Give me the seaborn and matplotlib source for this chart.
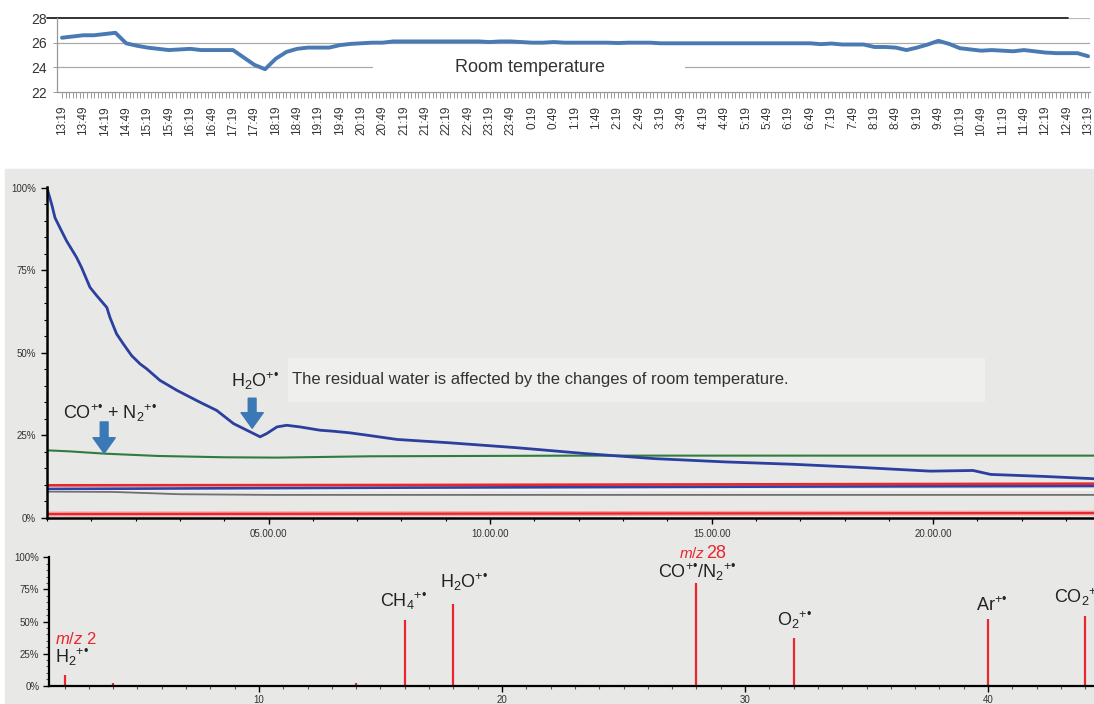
import numpy as np
import matplotlib.pyplot as plt
import seaborn as sns
from matplotlib.patches import Rectangle

W, H = 1094, 704

# room temperature, one value every 15 min from 13:19 to 13:19 next day
temp_values = [
    26.4, 26.5, 26.6, 26.6, 26.7, 26.8,
    25.95, 25.75, 25.6, 25.5, 25.4, 25.45,
    25.5, 25.4, 25.4, 25.4, 25.4, 24.8,
    24.2, 23.85, 24.7, 25.25, 25.5, 25.6,
    25.6, 25.6, 25.8, 25.9, 25.95, 26.0,
    26.0, 26.1, 26.1, 26.1, 26.1, 26.1,
    26.1, 26.1, 26.1, 26.1, 26.05, 26.1,
    26.1, 26.05, 26.0, 26.0, 26.05, 26.0,
    26.0, 26.0, 26.0, 26.0, 25.97, 26.0,
    26.0, 26.0, 25.95, 25.95, 25.95, 25.95,
    25.95, 25.95, 25.95, 25.95, 25.95, 25.95,
    25.95, 25.95, 25.95, 25.95, 25.95, 25.88,
    25.93, 25.85, 25.85, 25.85, 25.65, 25.65,
    25.6, 25.4, 25.6, 25.85, 26.15, 25.9,
    25.55, 25.45, 25.35, 25.4, 25.35, 25.3,
    25.4, 25.3, 25.2, 25.15, 25.15, 25.15,
    24.9]
time_labels = ["13:19", "13:49", "14:19", "14:49", "15:19", "15:49", "16:19", "16:49",
               "17:19", "17:49", "18:19", "18:49", "19:19", "19:49", "20:19", "20:49",
               "21:19", "21:49", "22:19", "22:49", "23:19", "23:49", "0:19", "0:49",
               "1:19", "1:49", "2:19", "2:49", "3:19", "3:49", "4:19", "4:49",
               "5:19", "5:49", "6:19", "6:49", "7:19", "7:49", "8:19", "8:49",
               "9:19", "9:49", "10:19", "10:49", "11:19", "11:49", "12:19", "12:49", "13:19"]
temp_ticks = [22, 24, 26, 28]

# trend plot (minutes, % of max)
h2o_t = [0, 0.105, 0.18, 0.29, 0.44, 0.67, 0.78, 0.97, 1.12, 1.35, 1.42, 1.57, 1.72,
         1.91, 2.1, 2.25, 2.55, 2.93, 3.45, 3.83, 4.21, 4.51, 4.81, 4.96, 5.19, 5.41,
         5.71, 6.16, 6.46, 6.84, 7.22, 7.9, 9.07, 10.6, 12.17, 13.7, 15.3, 16.8, 18.4,
         19.93, 20.9, 21.3, 22.5, 23.63]
h2o_v = [100, 95.1, 91.0, 88.0, 84.0, 78.9, 75.9, 69.9, 67.4, 63.8, 60.8, 55.8, 52.8,
         49.2, 46.7, 45.2, 41.7, 38.7, 35.1, 32.6, 28.6, 26.6, 24.6, 25.6, 27.6, 28.1,
         27.6, 26.6, 26.3, 25.8, 25.1, 23.8, 22.8, 21.3, 19.5, 18.0, 17.0, 16.3, 15.3,
         14.2, 14.4, 13.2, 12.6, 11.9]
n2_t = [0, 0.5, 1.3, 2.5, 4.0, 5.2, 7.3, 12, 18, 23.63]
n2_v = [20.5, 20.2, 19.5, 18.8, 18.4, 18.3, 18.7, 18.9, 18.9, 18.9]
red_hi_t = [0, 8, 16, 23.63]
red_hi_v = [9.9, 10.0, 10.2, 10.4]
blue_lo_t = [0, 8, 16, 23.63]
blue_lo_v = [8.8, 9.2, 9.5, 9.7]
white_t = [0, 23.63]
white_v = [8.4, 8.4]
gray_t = [0, 1.5, 3.0, 5, 23.63]
gray_v = [8.0, 7.9, 7.2, 7.0, 7.0]
red_lo_t = [0, 23.63]
red_lo_v = [1.2, 1.5]
run_ticks = [5, 10, 15, 20]
run_labels = ["05.00.00", "10.00.00", "15.00.00", "20.00.00"]
pct_ticks = [0, 25, 50, 75, 100]
pct_labels = ["0%", "25%", "50%", "75%", "100%"]

# mass spectrum
mz = [2, 4, 14, 16, 18, 28, 32, 40, 44]
intensity = [8.3, 1.9, 1.9, 50.9, 63.9, 79.8, 37.5, 52.2, 54.0]
mz_ticks = [10, 20, 30, 40]

sns.set_theme(style="white")
plt.rcParams['font.family'] = ['Liberation Sans', 'DejaVu Sans']
plt.rcParams['mathtext.fontset'] = 'custom'
plt.rcParams['mathtext.rm'] = 'Liberation Sans'
plt.rcParams['mathtext.it'] = 'Liberation Sans:italic'
plt.rcParams['mathtext.bf'] = 'Liberation Sans:bold'

RAD = "{}^{+•}"

fig = plt.figure(figsize=(W / 100, H / 100), dpi=100)
fig.patches.append(Rectangle((5 / W, 0), 1, 535 / H, transform=fig.transFigure,
                             color='#e8e8e7', zorder=-5))

# ---- top: room temperature ----
ax_t = fig.add_axes([57 / W, 1 - 92 / H, 1033 / W, 74 / H])
temp_x = np.arange(len(temp_values)) * 0.5
sns.lineplot(x=temp_x, y=temp_values, ax=ax_t, color='#4a7ab4', linewidth=2.8, zorder=3)
ax_t.set_xlim(-0.234, 48.09)
ax_t.set_ylim(22, 28)
ax_t.set_xticks(np.arange(len(time_labels)))
ax_t.set_xticklabels(time_labels, rotation=90, fontsize=8.5, color='#333333')
ax_t.set_xticks(np.arange(0, 48.01, 1 / 6), minor=True)
ax_t.set_yticks(temp_ticks)
ax_t.set_yticklabels([str(v) for v in temp_ticks], fontsize=10, color='#333333')
ax_t.tick_params(axis='x', which='both', bottom=True, length=4, width=0.7,
                 color='#999999', pad=6)
ax_t.tick_params(axis='y', left=True, length=3, width=0.7, color='#999999', pad=4)
for s in ['top', 'right']:
    ax_t.spines[s].set_visible(False)
for s in ['left', 'bottom']:
    ax_t.spines[s].set_color('#999999')
    ax_t.spines[s].set_linewidth(0.9)
ax_t.axhline(26, color='#aaaaaa', lw=0.9, zorder=1)
ax_t.axhline(24, xmax=0.305, color='#aaaaaa', lw=0.9, zorder=1)
ax_t.axhline(24, xmin=0.608, color='#aaaaaa', lw=0.9, zorder=1)
ax_t.axhline(28, xmin=0.979, color='#bbbbbb', lw=0.9, zorder=1)
ax_t.axhline(28, xmin=-0.0097, xmax=0.979, color='#222222', lw=1.3, zorder=2, clip_on=False)
ax_t.text(21.9, 24, "Room temperature", ha='center', va='center', fontsize=13,
          color='#333333')
ax_t.set_xlabel('')
ax_t.set_ylabel('')

# ---- middle: trend over time ----
ax_m = fig.add_axes([47 / W, 1 - 518 / H, 1047 / W, 331 / H])
ax_m.set_facecolor('none')
sns.lineplot(x=red_lo_t, y=red_lo_v, ax=ax_m, color='#f2a3a3', linewidth=3.6)
sns.lineplot(x=red_lo_t, y=red_lo_v, ax=ax_m, color='#e8262c', linewidth=1.6)
sns.lineplot(x=gray_t, y=gray_v, ax=ax_m, color='#707070', linewidth=1.3)
sns.lineplot(x=white_t, y=white_v, ax=ax_m, color='#f6f6f6', linewidth=1.2)
sns.lineplot(x=blue_lo_t, y=blue_lo_v, ax=ax_m, color='#2a44a8', linewidth=1.9)
sns.lineplot(x=red_hi_t, y=red_hi_v, ax=ax_m, color='#e8262c', linewidth=1.9)
sns.lineplot(x=n2_t, y=n2_v, ax=ax_m, color='#2f7d3b', linewidth=1.5)
sns.lineplot(x=h2o_t, y=h2o_v, ax=ax_m, color='#2b3f9f', linewidth=2.0)
ax_m.set_xlim(0, 23.63)
ax_m.set_ylim(0, 100.3)
ax_m.set_xticks(run_ticks)
ax_m.set_xticklabels(run_labels, fontsize=7, color='#333333')
ax_m.set_xticks(np.arange(0, 23.6, 1), minor=True)
ax_m.set_yticks(pct_ticks)
ax_m.set_yticklabels(pct_labels, fontsize=7, color='#333333')
ax_m.set_yticks(np.arange(0, 100.1, 5), minor=True)
ax_m.tick_params(which='major', bottom=True, left=True, length=4, width=1,
                 color='black', pad=4)
ax_m.tick_params(which='minor', bottom=True, left=True, length=2.5, width=0.8,
                 color='black')
for s in ['top', 'right']:
    ax_m.spines[s].set_visible(False)
for s in ['left', 'bottom']:
    ax_m.spines[s].set_color('black')
    ax_m.spines[s].set_linewidth(1.8)
ax_m.set_xlabel('')
ax_m.set_ylabel('')

ax_m.add_patch(Rectangle((5.45, 35.3), 15.72, 13.3, color='#efefed', zorder=0.5, lw=0))
ax_m.text(5.53, 42.0, "The residual water is affected by the changes of room temperature.",
          ha='left', va='center', fontsize=12, color='#333333')
ax_m.text(4.15, 41.4, r"H$_2$O$" + RAD + "$", ha='left', va='center', fontsize=13,
          color='#222222')
ax_m.text(0.36, 31.8, r"CO$" + RAD + r"$ + N$_2" + RAD + "$", ha='left', va='center',
          fontsize=13, color='#222222')
arrow = dict(arrowstyle='simple,head_length=0.7,head_width=1.0,tail_width=0.35',
             color='#3b78b6', mutation_scale=16, shrinkA=0, shrinkB=0)
ax_m.annotate('', xy=(4.63, 27.2), xytext=(4.63, 36.3), arrowprops=arrow)
ax_m.annotate('', xy=(1.29, 19.6), xytext=(1.29, 29.1), arrowprops=arrow)

# ---- bottom: mass spectrum ----
ax_b = fig.add_axes([49 / W, 1 - 685.7 / H, 1045 / W, 129 / H])
ax_b.set_facecolor('none')
ax_b.vlines(mz, 0, intensity, color='#e8262c', lw=1.6)
ax_b.set_xlim(1.36, 44.36)
ax_b.set_ylim(0, 100.5)
ax_b.set_xticks(mz_ticks)
ax_b.set_xticklabels([str(v) for v in mz_ticks], fontsize=7, color='#333333')
ax_b.set_xticks(np.arange(2, 45, 1), minor=True)
ax_b.set_yticks(pct_ticks)
ax_b.set_yticklabels(pct_labels, fontsize=7, color='#333333')
ax_b.set_yticks(np.arange(0, 100.1, 5), minor=True)
ax_b.tick_params(which='major', bottom=True, left=True, length=4, width=1,
                 color='black', pad=3)
ax_b.tick_params(which='minor', bottom=True, left=True, length=2, width=0.8,
                 color='#555555')
for s in ['top', 'right']:
    ax_b.spines[s].set_visible(False)
for s in ['left', 'bottom']:
    ax_b.spines[s].set_color('black')
    ax_b.spines[s].set_linewidth(1.6)

lab = dict(ha='left', va='center', fontsize=13, color='#222222', clip_on=False)
ax_b.text(1.6, 36.2, r"$m/z$ 2", ha='left', va='center', fontsize=12, color='#e8262c')
ax_b.text(1.6, 22.5, r"H$_2" + RAD + "$", **lab)
ax_b.text(14.98, 65.7, r"CH$_4" + RAD + "$", **lab)
ax_b.text(17.45, 80.6, r"H$_2$O$" + RAD + "$", **lab)
ax_b.text(27.3, 102.9, r"$m/z$", ha='left', va='center', fontsize=11,
          color='#e8262c', clip_on=False)
ax_b.text(28.4, 103.2, "28", ha='left', va='center', fontsize=13,
          color='#e8262c', clip_on=False)
ax_b.text(26.4, 88.4, r"CO$" + RAD + r"$/N$_2" + RAD + "$", **lab)
ax_b.text(31.3, 51.0, r"O$_2" + RAD + "$", **lab)
ax_b.text(39.5, 62.6, r"Ar$" + RAD + "$", **lab)
ax_b.text(42.7, 69.0, r"CO$_2" + RAD + "$", **lab)

fig.savefig("out.png", dpi=100)
